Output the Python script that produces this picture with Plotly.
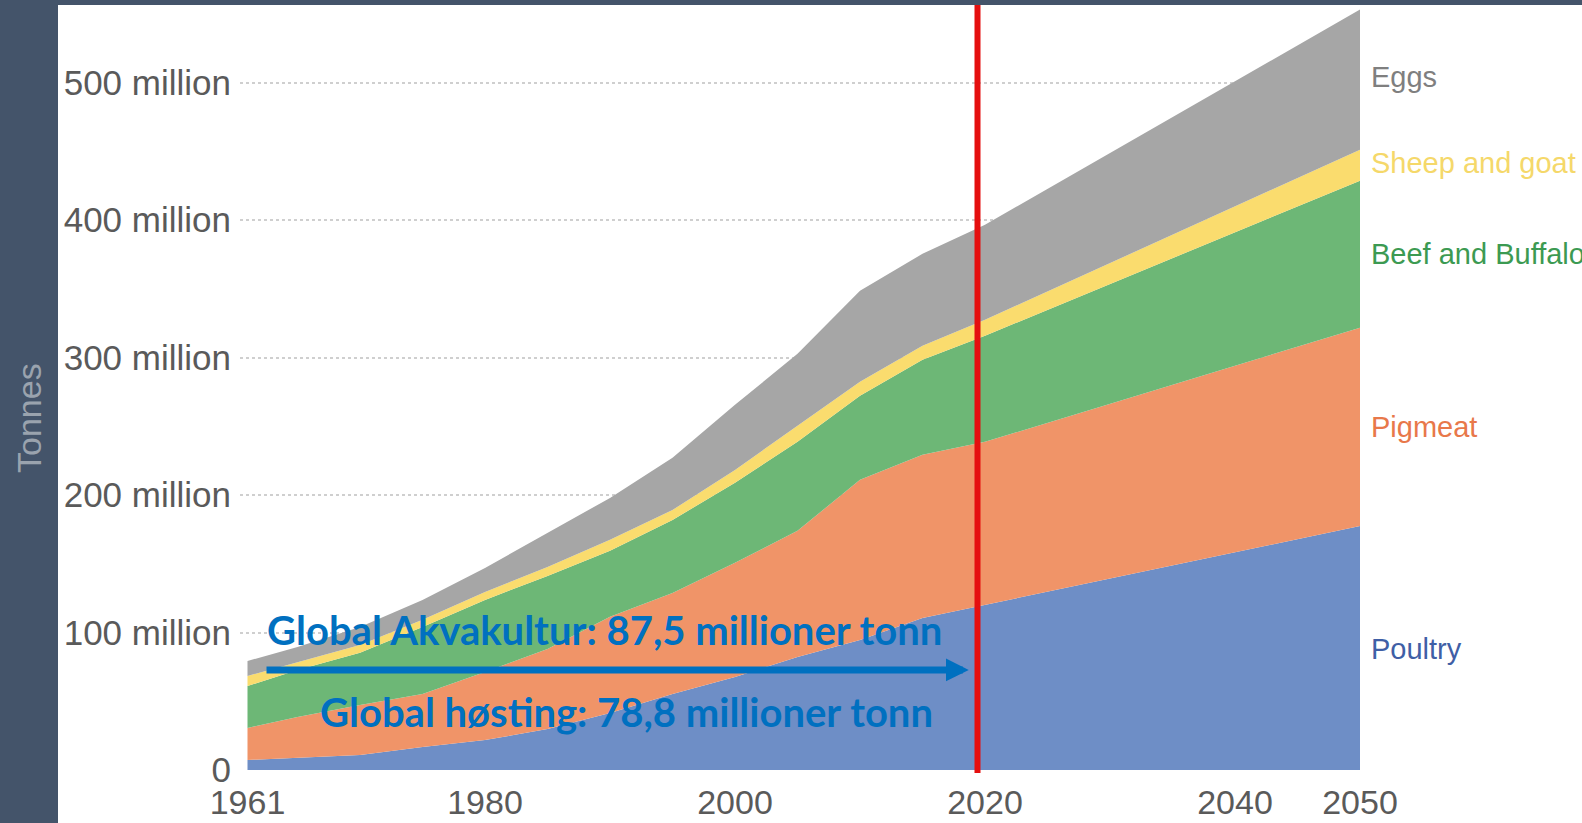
import plotly.graph_objects as go

# ---- data (million tonnes) ----
years = [1961, 1965, 1970, 1975, 1980, 1985, 1990, 1995, 2000, 2005, 2010, 2015, 2020, 2050]
poultry = [7.3, 8.7, 10.9, 16.7, 21.8, 29.8, 41.5, 55.3, 67.7, 82.2, 94.6, 110.6, 120.1, 177.4]
pigmeat = [23.3, 29.9, 36.4, 38.6, 49.5, 58.3, 69.9, 73.5, 83.0, 91.8, 116.5, 118.7, 118.6, 144.3]
beef = [30.5, 34.2, 37.9, 48.8, 52.4, 53.1, 48.0, 53.1, 58.2, 64.7, 61.1, 69.1, 77.2, 107.0]
sheep = [7.3, 5.8, 5.8, 5.1, 5.8, 6.5, 8.0, 7.3, 9.4, 11.7, 10.2, 10.2, 11.6, 22.5]
eggs = [10.9, 10.9, 13.1, 14.5, 17.5, 24.8, 30.5, 37.9, 47.3, 52.4, 66.2, 66.9, 69.1, 102.0]

series_names = ["Poultry", "Pigmeat", "Beef and Buffalo", "Sheep and goat", "Eggs"]
series_values = [poultry, pigmeat, beef, sheep, eggs]

x_tickvals = [1961, 1980, 2000, 2020, 2040, 2050]
y_tickvals = [0, 100, 200, 300, 400, 500]
y_ticktext = ["0", "100 million", "200 million", "300 million", "400 million", "500 million"]

fill_colors = ["#6e8ec6", "#f09468", "#6db776", "#fadc6e", "#a6a6a6"]
label_colors = ["#3f5fa6", "#e8784a", "#3c9a52", "#f5d86a", "#7f7f7f"]
label_y = [88, 249.5, 375.5, 441.5, 504]  # label positions (million) on right side

W, H = 1582, 823
ml, mr, mt, mb = 240, 222, 7, 53
pw, ph = W - ml - mr, H - mt - mb


def px_to_paper_x(px):
    return (px - ml) / pw


def px_to_paper_y(py):
    return (H - mb - py) / ph


fig = go.Figure()
for name, vals, col in zip(series_names, series_values, fill_colors):
    fig.add_trace(go.Scatter(
        x=years, y=vals, name=name, mode="lines", stackgroup="one",
        line=dict(width=0, color=col), fillcolor=col, showlegend=False,
        hoverinfo="x+y+name",
    ))

base_font = "Liberation Sans, Arial, sans-serif"

annotations = []
for name, col, ly in zip(series_names, label_colors, label_y):
    annotations.append(dict(
        x=2050, y=ly, xref="x", yref="y", xanchor="left", yanchor="middle",
        xshift=9, text=name, showarrow=False,
        font=dict(family=base_font, size=29, color=col),
    ))

# y-axis title on the dark strip
annotations.append(dict(
    x=px_to_paper_x(29), y=px_to_paper_y(418), xref="paper", yref="paper",
    text="Tonnes", showarrow=False, textangle=-90,
    font=dict(family=base_font, size=34, color="#9aa3ae"),
    xanchor="center", yanchor="middle",
))

# overlay texts
ann_font = dict(family="Lato, 'Open Sans', sans-serif", size=40, color="#0070c0")
annotations.append(dict(
    x=1962.4, y=101.5, xref="x", yref="y", xanchor="left", yanchor="middle",
    text="<b>Global Akvakultur: 87,5 millioner tonn</b>", showarrow=False, font=ann_font,
))
annotations.append(dict(
    x=1966.6, y=42.5, xref="x", yref="y", xanchor="left", yanchor="middle",
    text="<b>Global høsting: 78,8 millioner tonn</b>", showarrow=False, font=ann_font,
))
annotations.append(dict(
    x=2018.7, y=72.8, ax=1962.4, ay=72.8, xref="x", yref="y", axref="x", ayref="y",
    text="", showarrow=True, arrowhead=2, arrowsize=0.65, arrowwidth=7,
    arrowcolor="#0070c0", standoff=0, startstandoff=0,
))

shapes = [
    # dark left strip
    dict(type="rect", xref="paper", yref="paper",
         x0=px_to_paper_x(-5), x1=px_to_paper_x(58), y0=px_to_paper_y(H + 20), y1=px_to_paper_y(-5),
         fillcolor="#44546a", line=dict(width=0), layer="below"),
    # dark top strip
    dict(type="rect", xref="paper", yref="paper",
         x0=px_to_paper_x(-5), x1=px_to_paper_x(W + 20), y0=px_to_paper_y(5), y1=px_to_paper_y(-5),
         fillcolor="#44546a", line=dict(width=0), layer="below"),
    # red vertical line
    dict(type="line", xref="x", yref="paper", x0=2019.4, x1=2019.4,
         y0=px_to_paper_y(773), y1=px_to_paper_y(5),
         line=dict(color="#e50f0f", width=6), layer="above"),
]

fig.update_layout(
    width=W, height=H, autosize=False,
    margin=dict(l=ml, r=mr, t=mt, b=mb, pad=0, autoexpand=False),
    paper_bgcolor="white", plot_bgcolor="white",
    showlegend=False,
    annotations=annotations,
    shapes=shapes,
    xaxis=dict(
        range=[1960.4, 2050], tickvals=x_tickvals, ticktext=[str(v) for v in x_tickvals],
        showgrid=False, zeroline=False, showline=False, ticks="", automargin=False,
        tickfont=dict(family=base_font, size=34, color="#5a5a5a"),
        ticklabelstandoff=9,
    ),
    yaxis=dict(
        range=[0, 555], tickvals=y_tickvals, ticktext=y_ticktext,
        showgrid=True, gridcolor="#cfcfcf", griddash="dot", gridwidth=1.5,
        zeroline=False, showline=False, ticks="", automargin=False,
        tickfont=dict(family=base_font, size=35, color="#5a5a5a"),
        ticklabelstandoff=8,
    ),
)

post = (
    "document.documentElement.style.margin='0px';"
    "document.documentElement.style.overflow='hidden';"
    "document.body.style.margin='0px';"
    "document.body.style.overflow='hidden';"
)

fig.write_html(
    "out.html",
    config={"displayModeBar": False},
    post_script=post,
)
